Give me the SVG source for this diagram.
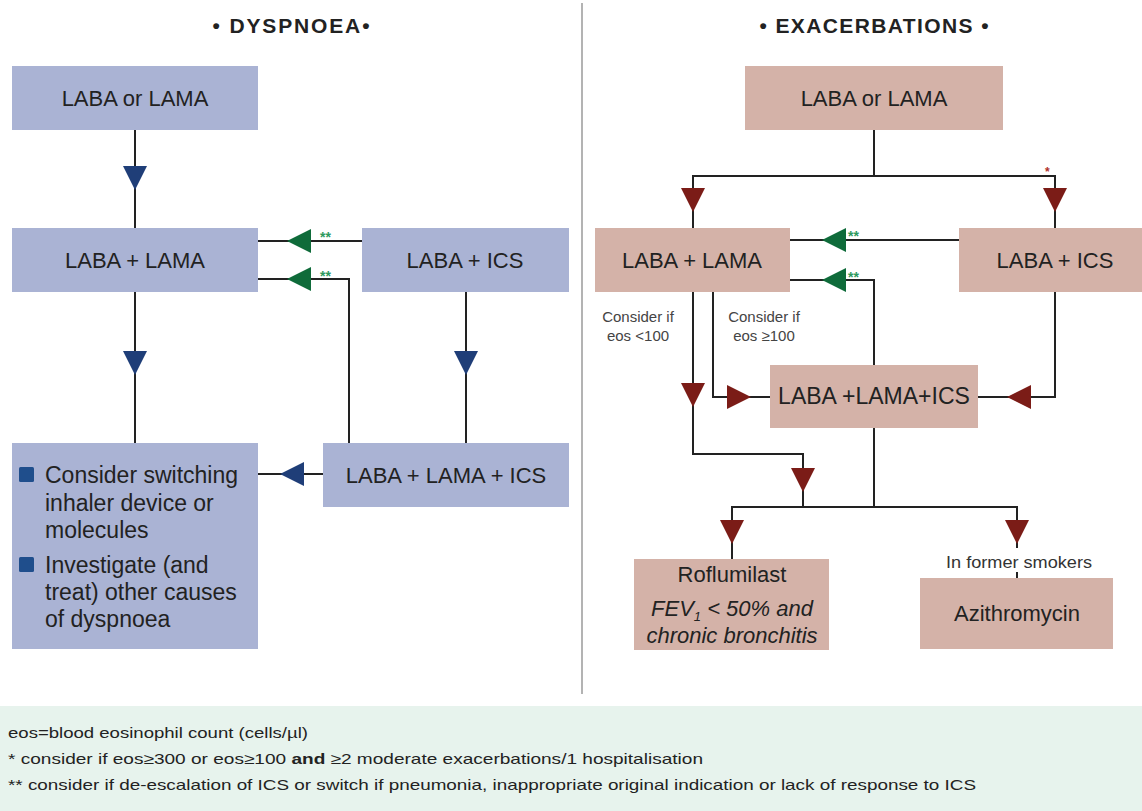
<svg xmlns="http://www.w3.org/2000/svg" width="1142" height="811" viewBox="0 0 1142 811">
<style>
  .bg{fill:#ffffff}
  .blue{fill:#aab3d4}
  .rose{fill:#d4b2a8}
  .t{font-family:"Liberation Sans",Arial,sans-serif;fill:#222}
  .box{font-size:22px;text-anchor:middle}
  .title{font-size:21px;font-weight:bold;text-anchor:middle}
  .small{font-size:15px;fill:#444;text-anchor:middle}
  .bul{font-size:23px}
  .leg{font-size:15px}
  .ln{fill:none;stroke:#222;stroke-width:2}
  .div{stroke:#9a9a9a;stroke-width:1.5}
  .ab{fill:#1f3e78}
  .ar{fill:#7b1c17}
  .ag{fill:#0f6b3a}
  .star{font-family:"Liberation Sans",Arial,sans-serif;font-size:14px;font-weight:bold}
  .sg{fill:#2e9a5e}
  .sr{fill:#b0302a}
  .sq{fill:#1f4e8c}
</style>
<defs>
  <path id="down" d="M-12,-12 L12,-12 L0,12 Z"/>
  <path id="left" d="M-12,0 L12,-12 L12,12 Z"/>
  <path id="right" d="M12,0 L-12,-12 L-12,12 Z"/>
</defs>
<rect class="bg" x="0" y="0" width="1142" height="811"/>

<!-- titles -->
<text class="t title" x="291" y="33" textLength="157" lengthAdjust="spacing">• DYSPNOEA•</text>
<text class="t title" x="874" y="33" textLength="229" lengthAdjust="spacing">• EXACERBATIONS •</text>

<!-- divider -->
<line class="div" x1="582" y1="3" x2="582" y2="694"/>

<!-- connectors -->
<g id="connectors">
  <!-- left -->
  <path class="ln" d="M135,130 V228"/>
  <path class="ln" d="M135,292 V443"/>
  <path class="ln" d="M466,292 V443"/>
  <path class="ln" d="M362,241 H258"/>
  <path class="ln" d="M349,443 V279 H258"/>
  <path class="ln" d="M323,474 H258"/>
  <use href="#down" class="ab" x="135" y="178"/>
  <use href="#down" class="ab" x="135" y="363"/>
  <use href="#down" class="ab" x="466" y="363"/>
  <use href="#left" class="ab" x="292" y="474"/>
  <use href="#left" class="ag" x="299" y="241"/>
  <use href="#left" class="ag" x="299" y="279"/>
  <text class="star sg" x="320" y="242">**</text>
  <text class="star sg" x="320" y="281">**</text>
  <!-- right -->
  <path class="ln" d="M874,130 V176"/>
  <path class="ln" d="M693,228 V176 H1055 V229"/>
  <path class="ln" d="M959,240 H790"/>
  <path class="ln" d="M874,365 V280 H790"/>
  <path class="ln" d="M713,292 V397 H770"/>
  <path class="ln" d="M1055,292 V397 H978"/>
  <path class="ln" d="M693,292 V454 H803 V507"/>
  <path class="ln" d="M874,428 V507"/>
  <path class="ln" d="M732,559 V507 H1017 V548"/>
  <path class="ln" d="M1017,572 V578"/>
  <use href="#down" class="ar" x="693" y="200"/>
  <use href="#down" class="ar" x="1055" y="200"/>
  <use href="#down" class="ar" x="693" y="395"/>
  <use href="#right" class="ar" x="739" y="397"/>
  <use href="#left" class="ar" x="1019" y="397"/>
  <use href="#down" class="ar" x="803" y="480"/>
  <use href="#down" class="ar" x="732" y="532"/>
  <use href="#down" class="ar" x="1017" y="532"/>
  <use href="#left" class="ag" x="834" y="240"/>
  <use href="#left" class="ag" x="834" y="280"/>
  <text class="star sg" x="848" y="241">**</text>
  <text class="star sg" x="848" y="282">**</text>
  <text class="star sr" x="1045" y="176" style="font-size:12px">*</text>
  <text class="t small" x="638" y="322">Consider if</text>
  <text class="t small" x="638" y="341">eos &lt;100</text>
  <text class="t small" x="764" y="322">Consider if</text>
  <text class="t small" x="764" y="341">eos ≥100</text>
  <text class="t small" x="1019" y="568" style="fill:#333;font-size:16px" textLength="146" lengthAdjust="spacingAndGlyphs">In former smokers</text>
</g>

<!-- left nodes -->
<g id="d-laba-or-lama">
  <rect class="blue" x="12" y="66" width="246" height="64"/>
  <text class="t box" x="135" y="106">LABA or LAMA</text>
</g>
<g id="d-laba-lama">
  <rect class="blue" x="12" y="228" width="246" height="64"/>
  <text class="t box" x="135" y="268">LABA + LAMA</text>
</g>
<g id="d-laba-ics">
  <rect class="blue" x="362" y="228" width="207" height="64"/>
  <text class="t box" x="465" y="268">LABA + ICS</text>
</g>
<g id="d-triple">
  <rect class="blue" x="323" y="443" width="246" height="64"/>
  <text class="t box" x="446" y="483">LABA + LAMA + ICS</text>
</g>
<g id="d-consider">
  <rect class="blue" x="12" y="443" width="246" height="206"/>
  <rect class="sq" x="19" y="467" width="15" height="15" rx="1.5"/>
  <rect class="sq" x="19" y="557" width="15" height="15" rx="1.5"/>
  <text class="t bul" x="45" y="483">Consider switching</text>
  <text class="t bul" x="45" y="511">inhaler device or</text>
  <text class="t bul" x="45" y="538">molecules</text>
  <text class="t bul" x="45" y="573">Investigate (and</text>
  <text class="t bul" x="45" y="600">treat) other causes</text>
  <text class="t bul" x="45" y="627">of dyspnoea</text>
</g>

<!-- right nodes -->
<g id="e-laba-or-lama">
  <rect class="rose" x="745" y="66" width="258" height="64"/>
  <text class="t box" x="874" y="106">LABA or LAMA</text>
</g>
<g id="e-laba-lama">
  <rect class="rose" x="595" y="228" width="195" height="64"/>
  <text class="t box" x="692" y="268">LABA + LAMA</text>
</g>
<g id="e-laba-ics">
  <rect class="rose" x="959" y="228" width="190" height="64"/>
  <text class="t box" x="1055" y="268">LABA + ICS</text>
</g>
<g id="e-triple">
  <rect class="rose" x="770" y="365" width="208" height="63"/>
  <text class="t box" x="874" y="404" style="font-size:23px">LABA +LAMA+ICS</text>
</g>
<g id="e-roflumilast">
  <rect class="rose" x="634" y="559" width="195" height="91"/>
  <text class="t box" x="732" y="582">Roflumilast</text>
  <text class="t box" x="732" y="616" font-style="italic">FEV<tspan font-size="13" dy="5">1</tspan><tspan dy="-5"> &lt; 50% and</tspan></text>
  <text class="t box" x="732" y="643" font-style="italic">chronic bronchitis</text>
</g>
<g id="e-azithromycin">
  <rect class="rose" x="920" y="578" width="193" height="71"/>
  <text class="t box" x="1017" y="621">Azithromycin</text>
</g>

<!-- legend -->
<g id="legend">
  <rect x="0" y="706" width="1142" height="105" fill="#e7f3ed"/>
  <text class="t leg" x="8" y="738" textLength="300" lengthAdjust="spacingAndGlyphs">eos=blood eosinophil count (cells/µl)</text>
  <text class="t leg" x="8" y="764" textLength="695" lengthAdjust="spacingAndGlyphs">* consider if eos≥300 or eos≥100 <tspan font-weight="bold">and</tspan> ≥2 moderate exacerbations/1 hospitalisation</text>
  <text class="t leg" x="8" y="790" textLength="968" lengthAdjust="spacingAndGlyphs">** consider if de-escalation of ICS or switch if pneumonia, inappropriate original indication or lack of response to ICS</text>
</g>
</svg>
